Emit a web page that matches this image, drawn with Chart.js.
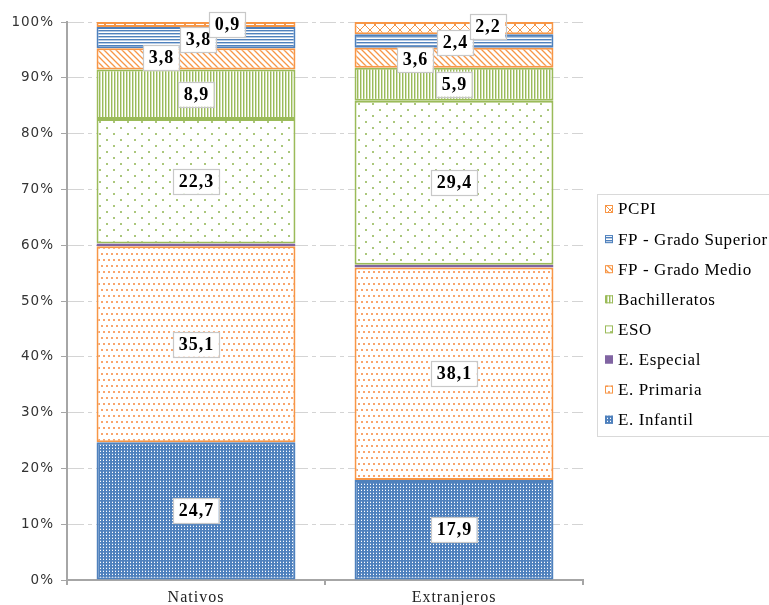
<!DOCTYPE html>
<html lang="es">
<head>
<meta charset="utf-8">
<title>Alumnado por enseñanza</title>
<script src="https://cdn.jsdelivr.net/npm/chart.js@4/dist/chart.umd.min.js"></script>
<style>
    body { margin: 0; background: #fff; }
    #marco { width: 769px; height: 605px; position: relative; }
</style>
</head>
<body>
<div id="marco"><canvas id="grafico"></canvas></div>
<script>
// Porcentajes por enseñanza (Nativos, Extranjeros)
const categorias = ['Nativos', 'Extranjeros'];
const eInfantil = [24.7, 17.9];
const ePrimaria = [35.1, 38.1];
const eEspecial = [0.5, 0.5];
const eso = [22.3, 29.4];
const bachilleratos = [8.9, 5.9];
const fpMedio = [3.8, 3.6];
const fpSuperior = [3.8, 2.4];
const pcpi = [0.9, 2.2];
const pasoY = 10;

const AZUL = '#4F81BD', NARANJA = '#F79646', VERDE = '#9BBB59', MORADO = '#8064A2';

// Tramas tipo Excel
function trama(w, h, dibujar) {
    const c = document.createElement('canvas');
    c.width = w; c.height = h;
    const x = c.getContext('2d');
    dibujar(x, w, h);
    return x.createPattern(c, 'repeat');
}

const tramaInfantil = trama(3, 3, (x) => {
    x.fillStyle = AZUL; x.fillRect(0, 0, 3, 3);
    x.fillStyle = '#ffffff'; x.fillRect(1, 1, 1, 1);
    x.fillStyle = '#7fa2d2'; x.fillRect(1, 0, 1, 1);
});
const tramaPrimaria = trama(10, 12, (x) => {
    x.fillStyle = '#fff'; x.fillRect(0, 0, 10, 12);
    x.fillStyle = '#f9a56c';
    [[1, 1], [6, 1], [3, 7], [8, 7]].forEach(([a, b]) => x.fillRect(a, b, 2, 2));
});
const tramaEso = trama(14, 12, (x) => {
    x.fillStyle = '#fff'; x.fillRect(0, 0, 14, 12);
    x.fillStyle = '#abc77c';
    x.fillRect(1, 1, 2, 2); x.fillRect(8, 7, 2, 2);
});
const tramaBach = trama(3, 1, (x) => {
    x.fillStyle = '#fff'; x.fillRect(0, 0, 3, 1);
    x.fillStyle = VERDE; x.fillRect(0, 0, 1, 1);
    x.fillStyle = '#d3e2b8'; x.fillRect(1, 0, 1, 1);
});
const tramaFpMedio = trama(6, 6, (x) => {
    x.fillStyle = '#fff'; x.fillRect(0, 0, 6, 6);
    x.strokeStyle = NARANJA; x.lineWidth = 1.3;
    x.beginPath();
    x.moveTo(-1, -1); x.lineTo(7, 7);
    x.moveTo(-1, 5); x.lineTo(1, 7);
    x.moveTo(5, -1); x.lineTo(7, 1);
    x.stroke();
});
const tramaFpSuperior = trama(1, 3, (x) => {
    x.fillStyle = '#fff'; x.fillRect(0, 0, 1, 3);
    x.fillStyle = AZUL; x.fillRect(0, 0, 1, 1);
    x.fillStyle = '#b8cce4'; x.fillRect(0, 1, 1, 1);
});
const tramaPcpi = trama(10, 10, (x) => {
    x.fillStyle = '#fff'; x.fillRect(0, 0, 10, 10);
    x.strokeStyle = NARANJA; x.lineWidth = 1;
    x.beginPath();
    x.moveTo(0, 0); x.lineTo(10, 10);
    x.moveTo(10, 0); x.lineTo(0, 10);
    x.stroke();
});

// Desplazamiento manual de las etiquetas pequeñas (dx, dy por categoría)
const ajusteEtiquetas = {
    'FP - Grado Medio': [[-35, -1], [-39, 2]],
    'FP - Grado Superior': [[2, 2], [1, 1.5]],
    'PCPI': [[31, 0], [33.5, -2]]
};

const series = [
    { label: 'E. Infantil', data: eInfantil, fondo: tramaInfantil, color: AZUL },
    { label: 'E. Primaria', data: ePrimaria, fondo: tramaPrimaria, color: NARANJA },
    { label: 'E. Especial', data: eEspecial, fondo: MORADO, color: MORADO, sinEtiqueta: true },
    { label: 'ESO', data: eso, fondo: tramaEso, color: VERDE },
    { label: 'Bachilleratos', data: bachilleratos, fondo: tramaBach, color: VERDE },
    { label: 'FP - Grado Medio', data: fpMedio, fondo: tramaFpMedio, color: NARANJA },
    { label: 'FP - Grado Superior', data: fpSuperior, fondo: tramaFpSuperior, color: AZUL },
    { label: 'PCPI', data: pcpi, fondo: tramaPcpi, color: NARANJA }
];

const espaciado = {
    id: 'espaciado',
    beforeDraw(chart) { chart.ctx.letterSpacing = '1px'; }
};

const etiquetas = {
    id: 'etiquetas',
    afterDatasetsDraw(chart) {
        const ctx = chart.ctx;
        ctx.save();
        ctx.font = 'bold 18px "Liberation Serif"';
        ctx.letterSpacing = '1px';
        ctx.textAlign = 'center';
        ctx.textBaseline = 'middle';
        chart.data.datasets.forEach((ds, i) => {
            if (ds.sinEtiqueta) return;
            const meta = chart.getDatasetMeta(i);
            meta.data.forEach((barra, j) => {
                const [dx, dy] = (ajusteEtiquetas[ds.label] || [])[j] || [0, 0];
                const texto = ds.data[j].toFixed(1).replace('.', ',');
                const cx = barra.x + dx;
                const cy = (barra.y + barra.base) / 2 + dy;
                const w = ctx.measureText(texto).width + 10;
                const h = 25;
                ctx.fillStyle = '#fff';
                ctx.fillRect(cx - w / 2, cy - h / 2, w, h);
                ctx.strokeStyle = '#c8c8c8';
                ctx.lineWidth = 1.2;
                ctx.strokeRect(Math.round(cx - w / 2) + 0.5, Math.round(cy - h / 2) + 0.5, Math.round(w), h);
                ctx.fillStyle = '#000';
                ctx.fillText(texto, cx + 0.5, cy + 1);
            });
        });
        ctx.restore();
    }
};

const leyenda = {
    id: 'leyenda',
    afterDraw(chart) {
        const ctx = chart.ctx;
        ctx.save();
        ctx.fillStyle = '#fff';
        ctx.fillRect(597, 194, 180, 242);
        ctx.strokeStyle = '#d9d9d9';
        ctx.lineWidth = 1;
        ctx.strokeRect(597.5, 194.5, 180, 242);
        ctx.font = '17px "Liberation Serif"';
        ctx.letterSpacing = '0.6px';
        ctx.textBaseline = 'middle';
        ctx.textAlign = 'left';
        const ds = chart.data.datasets.slice().reverse();
        ds.forEach((d, k) => {
            const y = 209 + k * 30.1;
            ctx.fillStyle = d.backgroundColor;
            ctx.fillRect(605, y - 4, 8, 8);
            ctx.strokeStyle = d.borderColor;
            ctx.strokeRect(605.5, y - 3.5, 7, 7);
            ctx.fillStyle = '#000';
            ctx.fillText(d.label, 618, y + 1);
        });
        ctx.restore();
    }
};

new Chart(document.getElementById('grafico'), {
    type: 'bar',
    data: {
        labels: categorias,
        datasets: series.map(s => ({
            label: s.label,
            data: s.data,
            backgroundColor: s.fondo,
            borderColor: s.color,
            borderWidth: 2,
            borderSkipped: false,
            sinEtiqueta: s.sinEtiqueta || false,
            categoryPercentage: 1,
            barPercentage: 0.771
        }))
    },
    options: {
        responsive: true,
        maintainAspectRatio: false,
        animation: false,
        layout: { padding: { top: 22, right: 186, left: 0, bottom: 0 } },
        plugins: { legend: { display: false }, tooltip: { enabled: false } },
        scales: {
            x: {
                stacked: true,
                offset: true,
                grid: { offset: true, drawOnChartArea: false, drawTicks: true, tickLength: 5, color: '#a6a6a6', lineWidth: 2 },
                border: { color: '#a6a6a6', width: 2 },
                ticks: { font: { family: 'Liberation Serif', size: 16 }, color: '#222', padding: 3 },
                afterFit(s) { s.height = 25; }
            },
            y: {
                stacked: true,
                min: 0,
                max: 100,
                ticks: {
                    stepSize: pasoY,
                    callback: v => v + '%',
                    font: { family: 'DejaVu Sans', size: 13.5 },
                    color: '#333',
                    padding: 7
                },
                grid: { color: '#d4d4d4', lineWidth: 1, tickColor: '#a6a6a6', tickLength: 6 },
                border: { color: '#a6a6a6', width: 2, dash: [16, 4, 4, 4] },
                afterFit(s) { s.width = 67; }
            }
        }
    },
    plugins: [espaciado, etiquetas, leyenda]
});
</script>
</body>
</html>
